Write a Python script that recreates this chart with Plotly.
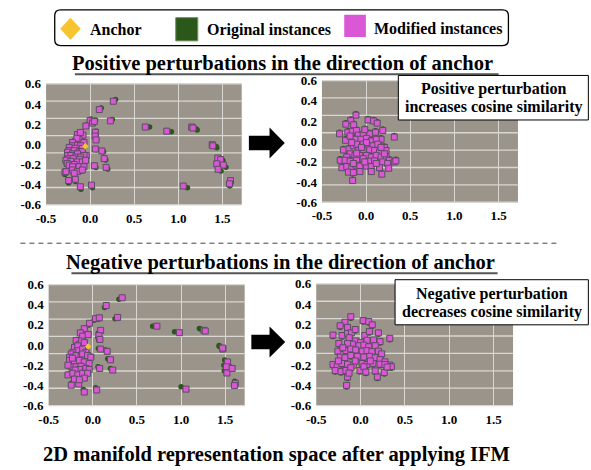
import plotly.graph_objects as go

W, H = 591, 470

# ---------------- data ----------------
x_tick_vals = [-0.5, 0.0, 0.5, 1.0, 1.5]
x_tick_text = ["-0.5", "0.0", "0.5", "1.0", "1.5"]
y_tick_vals = [-0.6, -0.4, -0.2, 0.0, 0.2, 0.4, 0.6]
y_tick_text = ["-0.6", "-0.4", "-0.2", "0.0", "0.2", "0.4", "0.6"]

legend_labels = ["Anchor", "Original instances", "Modified instances"]
title_pos = "Positive perturbations in the direction of anchor"
title_neg = "Negative perturbations in the direction of anchor"
box_pos = ["Positive perturbation", "increases cosine similarity"]
box_neg = ["Negative perturbation", "decreases cosine similarity"]
caption = "2D manifold representation space after applying IFM"

# Panel 1: positive perturbation, original space
p1_anchor_x = [-0.055]
p1_anchor_y = [-0.020]
p1_mod_x = [0.263, 0.104, 0.230, 0.000, 0.026, 0.048, -0.048, 0.626, 0.870, 1.152, 1.167, 1.385, 1.392,
            1.448, 1.481, 1.437, 1.511, 1.452, 1.593, 1.581, 1.056, 0.059, 0.056, 0.067, 0.059, 0.133,
            0.159, 0.048, 0.181, 0.015, -0.111, -0.244, -0.167, -0.286,
            -0.144, -0.107, -0.081, -0.163, -0.126, -0.150, -0.200, -0.070, -0.200, -0.144, -0.107, -0.237,
            -0.170, -0.089, -0.237, -0.181, -0.126, -0.089, -0.256, -0.200, -0.144, -0.044, -0.070, -0.256,
            -0.219, -0.163, -0.107, -0.244, -0.193, -0.119, -0.274, -0.219, -0.144, -0.089, -0.052, -0.260,
            -0.237, -0.181, -0.126, -0.070, -0.200, -0.274, -0.200, -0.144, -0.089, -0.181, -0.111]
p1_mod_y = [0.427, 0.344, 0.232, 0.235, 0.210, 0.226, 0.181, 0.171, 0.130, 0.171, 0.162, -0.005, -0.015,
            -0.136, -0.152, -0.194, -0.206, -0.248, -0.360, -0.392, -0.414, 0.120, 0.081, 0.043, -0.047, -0.066,
            -0.142, -0.213, -0.229, -0.405, -0.421, -0.360, -0.347, -0.277,
            0.097, 0.081, 0.091, 0.033, 0.049, 0.060, 0.017, 0.017, -0.015, -0.009, -0.015, -0.031,
            -0.040, -0.040, -0.063, -0.063, -0.079, -0.073, -0.079, -0.095, -0.095, -0.111, -0.111, -0.111,
            -0.111, -0.127, -0.127, -0.143, -0.143, -0.149, -0.159, -0.169, -0.175, -0.175, -0.159, -0.190,
            -0.207, -0.201, -0.223, -0.223, -0.223, -0.271, -0.255, -0.271, -0.255, -0.287, 0.118]
p1_orig_x = [0.289, 0.126, 0.252, 0.008, 0.036, 0.062, -0.040, 0.674, 0.922, 1.204, 1.215, 1.430, 1.437,
             1.490, 1.507, 1.493, 1.541, 1.485, 1.600, 1.585, 1.104, 0.068, 0.066, 0.074, 0.070, 0.152,
             0.178, 0.065, 0.200, 0.026, -0.104, -0.244, -0.167, -0.286,
             -0.152, -0.115, -0.089, -0.171, -0.134, -0.158, -0.208, -0.078, -0.208, -0.152, -0.115, -0.245,
             -0.178, -0.097, -0.245, -0.189, -0.134, -0.097, -0.264, -0.208, -0.152, -0.052, -0.078, -0.264,
             -0.227, -0.171, -0.115, -0.252, -0.201, -0.127, -0.282, -0.227, -0.152, -0.097, -0.060, -0.268,
             -0.245, -0.189, -0.134, -0.078, -0.208, -0.282, -0.208, -0.152, -0.097, -0.189, -0.119]
p1_orig_y = [0.443, 0.360, 0.245, 0.250, 0.222, 0.240, 0.192, 0.171, 0.123, 0.152, 0.142, -0.022, -0.035,
             -0.146, -0.162, -0.213, -0.229, -0.264, -0.382, -0.414, -0.430, 0.130, 0.088, 0.048, -0.055, -0.074,
             -0.155, -0.230, -0.245, -0.430, -0.445, -0.385, -0.370, -0.300,
             0.087, 0.071, 0.081, 0.023, 0.039, 0.050, 0.007, 0.007, -0.025, -0.019, -0.025, -0.041,
             -0.050, -0.050, -0.073, -0.073, -0.089, -0.083, -0.089, -0.105, -0.105, -0.121, -0.121, -0.121,
             -0.121, -0.137, -0.137, -0.153, -0.153, -0.159, -0.169, -0.179, -0.185, -0.185, -0.169, -0.200,
             -0.217, -0.211, -0.233, -0.233, -0.233, -0.281, -0.265, -0.281, -0.265, -0.297, 0.108]

# Panel 2: positive perturbation after IFM (original and modified nearly coincide)
p2_anchor_x = [-0.030]
p2_anchor_y = [-0.200]
p2_x = [-0.115, 0.022, 0.085, 0.126, -0.174, -0.230, -0.141, -0.300, -0.207, -0.156,
        -0.107, -0.233, 0.189, 0.319, -0.089, -0.033, 0.041, 0.107, 0.170, -0.063,
        0.004, 0.059, 0.115, -0.126, -0.181, -0.256, -0.193, -0.144, -0.107, -0.033,
        0.022, 0.078, 0.133, 0.207, 0.226, -0.089, -0.033, 0.041, 0.096, 0.152,
        -0.181, -0.219, -0.126, -0.070, 0.004, 0.059, 0.115, 0.170, 0.226, 0.263,
        -0.293, -0.237, -0.181, -0.107, 0.041, 0.096, 0.189, 0.244, 0.319, 0.337,
        -0.274, -0.219, -0.163, -0.115, -0.070, 0.004, 0.059, 0.152, 0.256, -0.200,
        -0.144, 0.178, -0.152,
        -0.015, -0.163, 0.004, -0.052, -0.107, -0.033, -0.144, -0.015, 0.115, 0.207, 0.170, -0.070, 0.059]
p2_y = [0.259, 0.212, 0.202, 0.180, 0.205, 0.170, 0.164, 0.075, 0.091, 0.100,
        0.107, 0.011, 0.107, 0.043, 0.062, 0.069, 0.075, 0.091, 0.021, 0.021,
        0.030, 0.005, 0.021, 0.021, 0.053, -0.084, -0.075, -0.043, -0.027, -0.027,
        -0.043, -0.043, -0.027, -0.059, -0.090, -0.090, -0.084, -0.084, -0.090, -0.106,
        -0.122, -0.154, -0.138, -0.138, -0.138, -0.154, -0.138, -0.154, -0.154, -0.186,
        -0.186, -0.186, -0.195, -0.186, -0.195, -0.192, -0.202, -0.218, -0.202, -0.192,
        -0.259, -0.249, -0.259, -0.234, -0.243, -0.243, -0.249, -0.259, -0.265, -0.303,
        -0.307, -0.323, -0.386,
        0.116, -0.011, -0.011, -0.059, -0.116, -0.170, -0.218, -0.202, -0.218, -0.122, -0.059, -0.297, -0.297]

# Panel 3: negative perturbation, original space
p3_anchor_x = [-0.052]
p3_anchor_y = [-0.015]
p3_mod_x = [0.333, 0.152, 0.281, 0.030, 0.074, -0.037, 0.726, 0.981, 1.259, 1.274, 1.474, 1.470, 1.526,
            1.515, 1.519, 1.578, 1.615, 1.604, 1.056, 0.089, 0.070, 0.081, 0.089, 0.163, 0.200, 0.078,
            0.226, 0.044, -0.096, -0.159, -0.244,
            -0.096, -0.141, -0.115, -0.052, -0.189, -0.152, -0.126, -0.096, -0.207, -0.170, -0.170, -0.115,
            -0.078, -0.226, -0.244, -0.189, -0.133, -0.115, -0.059, -0.022, -0.263, -0.263, -0.207, -0.152,
            -0.096, -0.041, -0.244, -0.189, -0.133, -0.078, -0.041, -0.152, -0.200, -0.281, -0.226, -0.170,
            -0.115, -0.059, -0.096, -0.207, -0.152, -0.281, -0.230]
p3_mod_y = [0.469, 0.392, 0.274, 0.262, 0.270, 0.216, 0.187, 0.123, 0.146, 0.139, -0.040, -0.030, -0.168,
            -0.216, -0.277, -0.232, -0.379, -0.402, -0.437, 0.146, 0.094, 0.056, -0.040, -0.062, -0.146, -0.232,
            -0.248, -0.446, -0.466, -0.386, -0.398,
            0.162, 0.120, 0.088, 0.104, 0.046, 0.008, 0.040, 0.024, -0.024, -0.008, -0.056, -0.040,
            -0.072, -0.072, -0.088, -0.104, -0.114, -0.088, -0.104, -0.120, -0.120, -0.152, -0.168, -0.152,
            -0.168, -0.184, -0.216, -0.216, -0.210, -0.232, -0.242, -0.242, -0.248, -0.296, -0.280, -0.296,
            -0.280, -0.280, -0.328, -0.338, -0.344, -0.200, -0.130]
p3_orig_x = [0.296, 0.133, 0.252, 0.015, 0.060, -0.044, 0.678, 0.926, 1.207, 1.219, 1.433, 1.430, 1.493,
             1.485, 1.489, 1.548, 1.607, 1.600, 1.000, 0.063, 0.059, 0.066, 0.063, 0.144, 0.170, 0.059,
             0.200, 0.033, -0.107, -0.159, -0.237,
             -0.088, -0.133, -0.107, -0.044, -0.181, -0.144, -0.118, -0.088, -0.199, -0.162, -0.162, -0.107,
             -0.070, -0.218, -0.236, -0.181, -0.125, -0.107, -0.051, -0.014, -0.255, -0.255, -0.199, -0.144,
             -0.088, -0.033, -0.236, -0.181, -0.125, -0.070, -0.033, -0.144, -0.192, -0.273, -0.218, -0.162,
             -0.107, -0.051, -0.088, -0.199, -0.144, -0.273, -0.222]
p3_orig_y = [0.453, 0.373, 0.261, 0.245, 0.255, 0.200, 0.187, 0.133, 0.165, 0.160, -0.014, -0.005, -0.149,
             -0.200, -0.254, -0.213, -0.360, -0.385, -0.414, 0.120, 0.078, 0.050, -0.034, -0.050, -0.136, -0.216,
             -0.232, -0.424, -0.440, -0.360, -0.376,
             0.172, 0.130, 0.098, 0.114, 0.056, 0.018, 0.050, 0.034, -0.014, 0.002, -0.046, -0.030,
             -0.062, -0.062, -0.078, -0.094, -0.104, -0.078, -0.094, -0.110, -0.110, -0.142, -0.158, -0.142,
             -0.158, -0.174, -0.206, -0.206, -0.200, -0.222, -0.232, -0.232, -0.238, -0.286, -0.270, -0.286,
             -0.270, -0.270, -0.318, -0.328, -0.334, -0.190, -0.120]

# Panel 4: negative perturbation after IFM
p4_anchor_x = [-0.037]
p4_anchor_y = [-0.238]
p4_x = [-0.110, 0.029, 0.092, 0.132, -0.176, -0.231, -0.147, -0.311, -0.209, -0.147,
        -0.103, -0.245, 0.048, 0.201, 0.330, -0.128, -0.055, 0.000, 0.073, 0.147,
        0.220, -0.092, -0.018, 0.037, 0.092, 0.165, -0.147, -0.256, -0.165, -0.110,
        -0.055, 0.018, 0.073, 0.128, 0.201, 0.238, -0.227, -0.176, -0.110, -0.037,
        0.037, 0.103, 0.165, 0.220, 0.275, 0.330, 0.348, -0.311, -0.264, -0.212,
        -0.147, -0.081, 0.018, 0.073, 0.139, 0.220, 0.275, -0.286, -0.220, -0.165,
        -0.110, -0.007, 0.037, 0.165, 0.267, -0.147, 0.190, -0.158,
        -0.060, 0.100, -0.200, 0.110, -0.060, 0.060, -0.250, 0.300, -0.130]
p4_y = [0.276, 0.238, 0.228, 0.196, 0.222, 0.187, 0.171, 0.095, 0.091, 0.111,
        0.117, 0.012, 0.091, 0.117, 0.063, 0.069, 0.037, 0.021, 0.044, 0.047,
        0.031, 0.006, -0.010, -0.004, -0.020, -0.010, 0.012, -0.064, -0.058, -0.042,
        -0.052, -0.064, -0.058, -0.068, -0.064, -0.090, -0.122, -0.128, -0.106, -0.115,
        -0.122, -0.115, -0.128, -0.147, -0.169, -0.201, -0.217, -0.195, -0.211, -0.185,
        -0.192, -0.201, -0.185, -0.195, -0.185, -0.192, -0.195, -0.255, -0.265, -0.255,
        -0.227, -0.255, -0.217, -0.258, -0.274, -0.319, -0.319, -0.401,
        0.150, 0.130, -0.030, -0.160, -0.160, -0.270, -0.160, -0.220, -0.280]

# ---------------- style ----------------
BG = "#9a948b"
GRID = "#d9d7d1"
PINK = "#da57d5"
PINK_LINE = "#5d4d63"
GREEN = "#2c571a"
YELLOW = "#f6c431"
SERIF = "Liberation Serif"
TICKFONT = dict(family=SERIF, size=13, color="black", weight="bold")


def X(px):
    return px / W


def Y(py):
    return 1 - py / H


fig = go.Figure()


def add_points(xs, ys, xa, ya, kind):
    if kind == "orig":
        marker = dict(symbol="circle", size=5.5, color=GREEN, line=dict(width=0))
        name = legend_labels[1]
    elif kind == "mod":
        marker = dict(symbol="square", size=6, color=PINK, line=dict(color=PINK_LINE, width=1))
        name = legend_labels[2]
    else:
        marker = dict(symbol="diamond", size=5, color=YELLOW, line=dict(width=0))
        name = legend_labels[0]
    fig.add_trace(go.Scatter(x=xs, y=ys, mode="markers", marker=marker, name=name,
                             xaxis=xa, yaxis=ya, showlegend=False, hoverinfo="skip"))


# panel 1
add_points(p1_orig_x, p1_orig_y, "x", "y", "orig")
add_points(p1_mod_x, p1_mod_y, "x", "y", "mod")
add_points(p1_anchor_x, p1_anchor_y, "x", "y", "anchor")
# panel 2 (green drawn on a slightly offset base axis underneath; anchor mostly hidden)
add_points(p2_x, p2_y, "x2", "y2", "orig")
add_points(p2_anchor_x, p2_anchor_y, "x2", "y5", "anchor")
add_points(p2_x, p2_y, "x2", "y5", "mod")
# panel 3
add_points(p3_orig_x, p3_orig_y, "x3", "y3", "orig")
add_points(p3_mod_x, p3_mod_y, "x3", "y3", "mod")
add_points(p3_anchor_x, p3_anchor_y, "x3", "y3", "anchor")
# panel 4
add_points(p4_x, p4_y, "x4", "y4", "orig")
add_points(p4_anchor_x, p4_anchor_y, "x4", "y6", "anchor")
add_points(p4_x, p4_y, "x4", "y6", "mod")

common_x = dict(range=[-0.5, 1.72], tickvals=x_tick_vals, ticktext=x_tick_text, showgrid=True,
                gridcolor=GRID, gridwidth=1.3, zeroline=False, showline=False, ticks="",
                tickfont=TICKFONT, ticklabelstandoff=4, fixedrange=True)
common_y = dict(range=[-0.6, 0.6], tickvals=y_tick_vals, ticktext=y_tick_text, showgrid=False,
                zeroline=False, showline=False, ticks="", tickfont=TICKFONT, ticklabelstandoff=4,
                fixedrange=True)
hidden_y = dict(showgrid=False, zeroline=False, showline=False, ticks="", showticklabels=False,
                fixedrange=True)

panels = {
    "p1": dict(l=36.7, r=235.7, t=79.3, b=204.3),
    "p2": dict(l=317.3, r=516.7, t=76.0, b=201.7),
    "p3": dict(l=39.3, r=238.7, t=286.7, b=411.7),
    "p4": dict(l=311.5, r=511.7, t=286.0, b=411.7),
}


def xdom(p):
    return [X(panels[p]["l"]), X(panels[p]["r"])]


def ydom(p):
    return [Y(panels[p]["b"]), Y(panels[p]["t"])]


fig.update_layout(
    width=W, height=H,
    margin=dict(l=0, r=0, t=0, b=0),
    paper_bgcolor="white", plot_bgcolor=BG,
    showlegend=False,
    xaxis=dict(domain=xdom("p1"), anchor="y", **common_x),
    yaxis=dict(domain=ydom("p1"), anchor="x", **common_y),
    xaxis2=dict(domain=xdom("p2"), anchor="y2", **common_x),
    yaxis2=dict(domain=ydom("p2"), anchor="x2", range=[-0.615, 0.585], **hidden_y),
    yaxis5=dict(overlaying="y2", anchor="x2", side="left", **common_y),
    xaxis3=dict(domain=xdom("p3"), anchor="y3", **common_x),
    yaxis3=dict(domain=ydom("p3"), anchor="x3", **common_y),
    xaxis4=dict(domain=xdom("p4"), anchor="y4", **common_x),
    yaxis4=dict(domain=ydom("p4"), anchor="x4", range=[-0.585, 0.615], **hidden_y),
    yaxis6=dict(overlaying="y4", anchor="x4", side="left", **common_y),
)

shapes = []
annotations = []

# horizontal grid lines (7 equal bands as in the source image)
for xa, ya in [("x", "y"), ("x2", "y2"), ("x3", "y3"), ("x4", "y4")]:
    for k in range(8):
        shapes.append(dict(type="line", xref=f"{xa} domain", yref=f"{ya} domain",
                           x0=0, x1=1, y0=k / 7, y1=k / 7, layer="below",
                           line=dict(color=GRID, width=1.3)))


def rounded_rect(x0, y0, x1, y1, r):
    return (f"M {X(x0 + r)},{Y(y0)} L {X(x1 - r)},{Y(y0)} Q {X(x1)},{Y(y0)} {X(x1)},{Y(y0 + r)} "
            f"L {X(x1)},{Y(y1 - r)} Q {X(x1)},{Y(y1)} {X(x1 - r)},{Y(y1)} "
            f"L {X(x0 + r)},{Y(y1)} Q {X(x0)},{Y(y1)} {X(x0)},{Y(y1 - r)} "
            f"L {X(x0)},{Y(y0 + r)} Q {X(x0)},{Y(y0)} {X(x0 + r)},{Y(y0)} Z")


# legend box
shapes.append(dict(type="path", xref="paper", yref="paper", path=rounded_rect(45.5, 3, 507, 39.8, 6),
                   fillcolor="white", line=dict(color="black", width=1.3)))
cx, cy, hw, hh = 61.5, 22.5, 10.4, 11.5
shapes.append(dict(type="path", xref="paper", yref="paper",
                   path=f"M {X(cx)},{Y(cy - hh)} L {X(cx + hw)},{Y(cy)} L {X(cx)},{Y(cy + hh)} L {X(cx - hw)},{Y(cy)} Z",
                   fillcolor=YELLOW, line=dict(width=0)))
shapes.append(dict(type="rect", xref="paper", yref="paper", x0=X(168.6), x1=X(191), y0=Y(35), y1=Y(11),
                   fillcolor=GREEN, line=dict(color="#6f8f60", width=1)))
shapes.append(dict(type="rect", xref="paper", yref="paper", x0=X(340), x1=X(362), y0=Y(31), y1=Y(8),
                   fillcolor=PINK, line=dict(width=0)))
LEGFONT = dict(family=SERIF, size=16, color="black", weight="bold")
for txt, px, py in [(legend_labels[0], 79, 23.5), (legend_labels[1], 198, 23.5), (legend_labels[2], 368.6, 22)]:
    annotations.append(dict(text=txt, x=X(px), y=Y(py), xref="paper", yref="paper", xanchor="left",
                            yanchor="middle", showarrow=False, font=LEGFONT))

# section titles with underline
TITLEFONT = dict(family=SERIF, size=20.5, color="black", weight="bold")
annotations.append(dict(text=title_pos, x=X(277), y=Y(58.5), xref="paper", yref="paper",
                        xanchor="center", yanchor="middle", showarrow=False, font=TITLEFONT))
shapes.append(dict(type="line", xref="paper", yref="paper", x0=X(66), x1=X(497), y0=Y(69.5), y1=Y(69.5),
                   line=dict(color="#555555", width=2)))
annotations.append(dict(text=title_neg, x=X(275.6), y=Y(264), xref="paper", yref="paper",
                        xanchor="center", yanchor="middle", showarrow=False, font=TITLEFONT))
shapes.append(dict(type="line", xref="paper", yref="paper", x0=X(62.5), x1=X(496), y0=Y(275), y1=Y(275),
                   line=dict(color="#555555", width=2)))

# caption
annotations.append(dict(text=caption, x=X(271), y=Y(462), xref="paper", yref="paper",
                        xanchor="center", yanchor="middle", showarrow=False, font=TITLEFONT))

# dashed separator
shapes.append(dict(type="line", xref="paper", yref="paper", x0=X(10.6), x1=X(556.8), y0=Y(244), y1=Y(244),
                   line=dict(color="#444444", width=1, dash="5px,4px")))


# arrows
def arrow(x0, xb, xt, cy, bh, hh):
    return (f"M {X(x0)},{Y(cy - bh)} L {X(xb)},{Y(cy - bh)} L {X(xb)},{Y(cy - hh)} L {X(xt)},{Y(cy)} "
            f"L {X(xb)},{Y(cy + hh)} L {X(xb)},{Y(cy + bh)} L {X(x0)},{Y(cy + bh)} Z")


shapes.append(dict(type="path", xref="paper", yref="paper", path=arrow(243, 264, 279.5, 140.5, 7.5, 16),
                   fillcolor="black", line=dict(width=0)))
shapes.append(dict(type="path", xref="paper", yref="paper", path=arrow(245.5, 264, 280, 346, 7.5, 16),
                   fillcolor="black", line=dict(width=0)))

# note boxes
BOXFONT = dict(family=SERIF, size=16, color="black", weight="bold")
for (bx0, by0, bx1, by1, lines, tcx, ty1, ty2) in [
        (395, 70.7, 588.3, 116.7, box_pos, 492, 85, 103.3),
        (391.7, 281.7, 588.3, 328.3, box_neg, 490.2, 296.5, 315)]:
    shapes.append(dict(type="rect", xref="paper", yref="paper", x0=X(bx0), x1=X(bx1), y0=Y(by1), y1=Y(by0),
                       fillcolor="white", line=dict(color="black", width=1)))
    for txt, ty in zip(lines, [ty1, ty2]):
        annotations.append(dict(text=txt, x=X(tcx), y=Y(ty), xref="paper", yref="paper",
                                xanchor="center", yanchor="middle", showarrow=False, font=BOXFONT))

fig.update_layout(shapes=shapes, annotations=annotations)

fig.write_html("out.html", config={"displayModeBar": False},
               post_script="document.body.style.margin='0';document.body.style.overflow='hidden';")
